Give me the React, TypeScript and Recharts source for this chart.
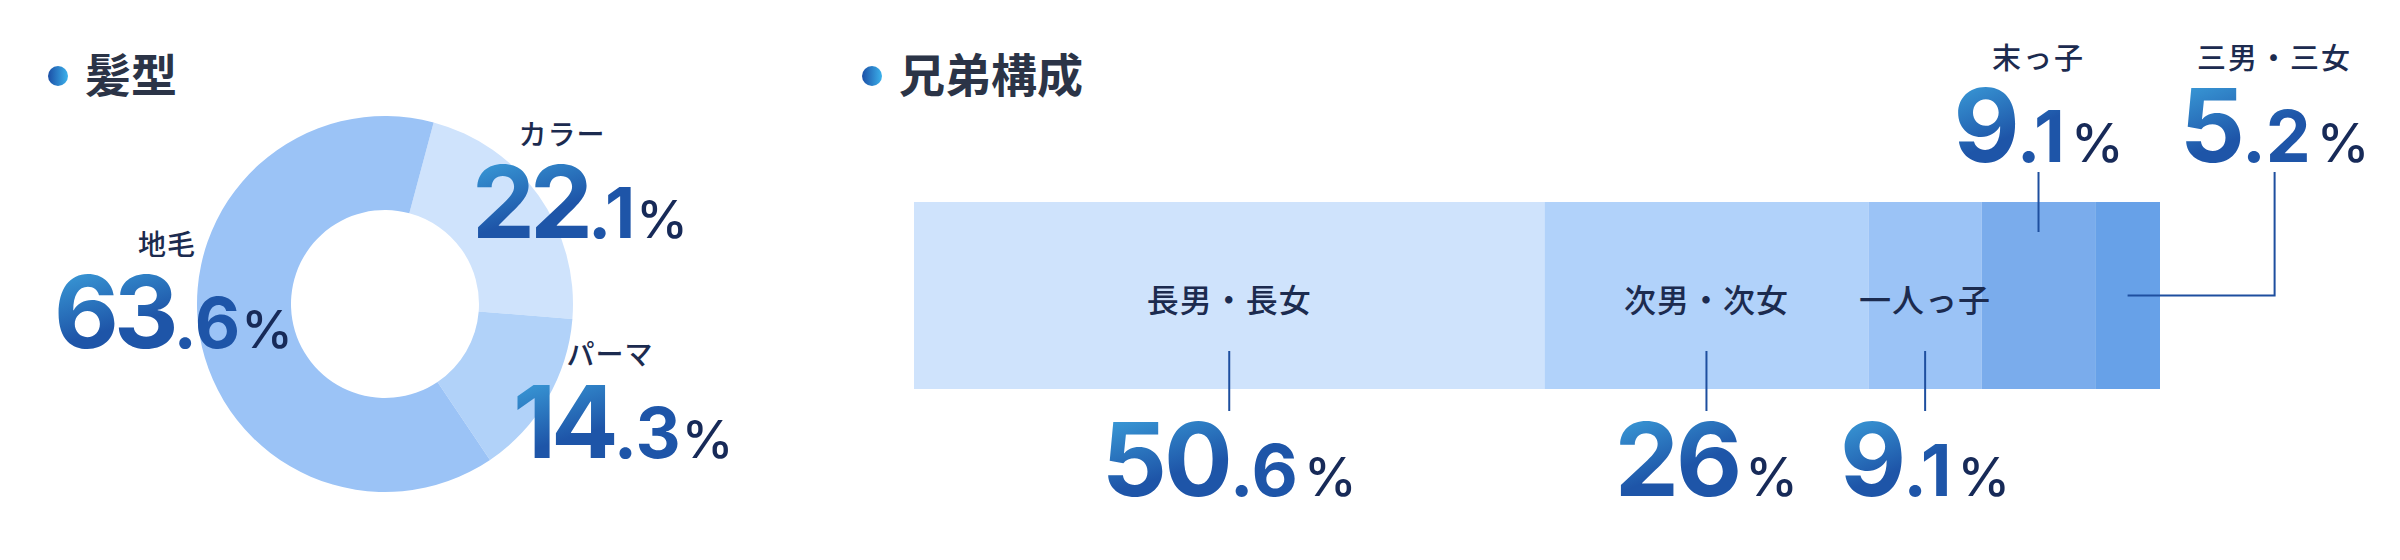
import { PieChart, Pie, Cell, BarChart, Bar, XAxis, YAxis } from 'recharts';

// 髪型
const hairLabels = ['カラー', 'パーマ', '地毛'];
const hairValues = [22.1, 14.3, 63.6];

// 兄弟構成
const siblingLabels = ['長男・長女', '次男・次女', '一人っ子', '末っ子', '三男・三女'];
const siblingValues = [50.6, 26, 9.1, 9.1, 5.2];

const hairColors = ['#cfe3fc', '#b1d2f9', '#9bc3f6'];
const siblingColors = ['#cfe3fc', '#b1d2fa', '#9bc3f6', '#7aacec', '#67a1e8'];

const hairData = hairLabels.map((name, i) => ({ name, value: hairValues[i] }));
const siblingRow: any = { name: '兄弟構成' };
siblingLabels.forEach((_, i) => { siblingRow['s' + i] = siblingValues[i]; });

const JP = '"Noto Sans CJK JP", sans-serif';
const NUM = 'Inter, "Noto Sans", sans-serif';
const TEXT = '#1c2b4f';
const PCT = '#172a58';
const LINE = '#1e4f9f';

// label placement around the donut, relative to its centre
const hairLabelPos = [
  { name: [177, -159], num: [87, -66] },
  { name: [225, 61], num: [128, 154] },
  { name: [-218, -49], num: [-331, 44] },
];
const siblingKinds = ['below', 'below', 'below', 'above', 'elbow'];

function Num({ x, y, value, anchor, size = 100, spacing = -3, gap = 6 }: any) {
  const [int, frac] = String(value).split('.');
  return (
    <text x={x} y={y} textAnchor={anchor} fontFamily={NUM}>
      <tspan fill="url(#numGrad)" fontSize={size} fontWeight={700} letterSpacing={spacing}>{int}</tspan>
      {frac && (
        <tspan fill="url(#numGrad)" fontSize={size * 0.7} fontWeight={700}>.{frac}</tspan>
      )}
      <tspan dx={gap} fill={PCT} fontSize={size * 0.52} fontWeight={500}>%</tspan>
    </text>
  );
}

function renderHairLabel(props: any) {
  const { index, value } = props;
  const cx = props.cx ?? 385;
  const cy = props.cy ?? 304;
  const p = hairLabelPos[index];
  return (
    <g>
      <text x={cx + p.name[0]} y={cy + p.name[1]} textAnchor="middle" fontFamily={JP}
        fontSize={28} fontWeight={500} fill={TEXT} letterSpacing={1}>
        {hairLabels[index]}
      </text>
      <Num x={cx + p.num[0]} y={cy + p.num[1]} value={value} anchor="start" spacing={-5} gap={1} />
    </g>
  );
}

function siblingLabel(i: number) {
  return (props: any) => {
    const vb = props.viewBox ?? props;
    const { x, y, width, height } = vb;
    const cx = x + width / 2;
    const cy = y + height / 2;
    const kind = siblingKinds[i];
    if (kind === 'below') {
      return (
        <g>
          <text x={cx} y={cy + 16} textAnchor="middle" fontFamily={JP} fontSize={32}
            fontWeight={500} fill={TEXT} letterSpacing={1}>{siblingLabels[i]}</text>
          <line x1={cx} x2={cx} y1={y + 149} y2={y + height + 22} stroke={LINE} strokeWidth={2} />
          <Num x={cx} y={y + height + 107} value={siblingValues[i]} anchor="middle" size={102} />
        </g>
      );
    }
    const lx = kind === 'elbow' ? cx + 147 : cx;
    return (
      <g>
        <text x={lx} y={y - 133} textAnchor="middle" fontFamily={JP} fontSize={29}
          fontWeight={500} fill={TEXT} letterSpacing={2}>{siblingLabels[i]}</text>
        <Num x={lx} y={y - 40} value={siblingValues[i]} anchor="middle" size={102} />
        {kind === 'elbow' ? (
          <path d={`M${cx},${cy}H${lx}V${y - 30}`} fill="none" stroke={LINE} strokeWidth={2} />
        ) : (
          <line x1={cx} x2={cx} y1={y - 30} y2={y + 30} stroke={LINE} strokeWidth={2} />
        )}
      </g>
    );
  };
}

function Title({ x, y, text }: any) {
  return (
    <g>
      <circle cx={x} cy={y - 16} r={10} fill="url(#dotGrad)" />
      <text x={x + 27} y={y} fontFamily={JP} fontSize={46} fontWeight={700} fill="#2b3447">{text}</text>
    </g>
  );
}

export default function App() {
  return (
    <div style={{ position: 'absolute', left: 0, top: 0, width: 2400, height: 560, background: '#fff' }}>
      <svg width={2400} height={560} style={{ position: 'absolute', left: 0, top: 0 }}>
        <defs>
          <linearGradient id="dotGrad" x1="0" y1="0" x2="1" y2="0">
            <stop offset="0" stopColor="#1b4fa6" />
            <stop offset="1" stopColor="#3cb2ec" />
          </linearGradient>
          <linearGradient id="numGrad" x1="0" y1="0.05" x2="0.32" y2="0.6">
            <stop offset="0" stopColor="#40aae2" />
            <stop offset="1" stopColor="#1e55a8" />
          </linearGradient>
        </defs>
        <Title x={58} y={92} text="髪型" />
        <Title x={872} y={92} text="兄弟構成" />
      </svg>

      <div style={{ position: 'absolute', left: 0, top: 0 }}>
        <PieChart width={800} height={560} margin={{ top: 0, right: 0, bottom: 0, left: 0 }}>
          <Pie data={hairData} dataKey="value" nameKey="name" cx={385} cy={304}
            innerRadius={94} outerRadius={188} startAngle={75} endAngle={-285}
            stroke="none" label={renderHairLabel} labelLine={false} isAnimationActive={false}>
            {hairData.map((d, i) => <Cell key={d.name} fill={hairColors[i]} />)}
          </Pie>
        </PieChart>
      </div>

      <div style={{ position: 'absolute', left: 840, top: 0 }}>
        <BarChart width={1560} height={560} data={[siblingRow]} layout="vertical"
          margin={{ top: 202, right: 240, bottom: 171, left: 74 }} barCategoryGap={0}>
          <XAxis type="number" domain={[0, 100]} hide />
          <YAxis type="category" dataKey="name" hide />
          {siblingLabels.map((n, i) => (
            <Bar key={n} dataKey={'s' + i} stackId="a" fill={siblingColors[i]}
              label={siblingLabel(i)} isAnimationActive={false} />
          ))}
        </BarChart>
      </div>
    </div>
  );
}
